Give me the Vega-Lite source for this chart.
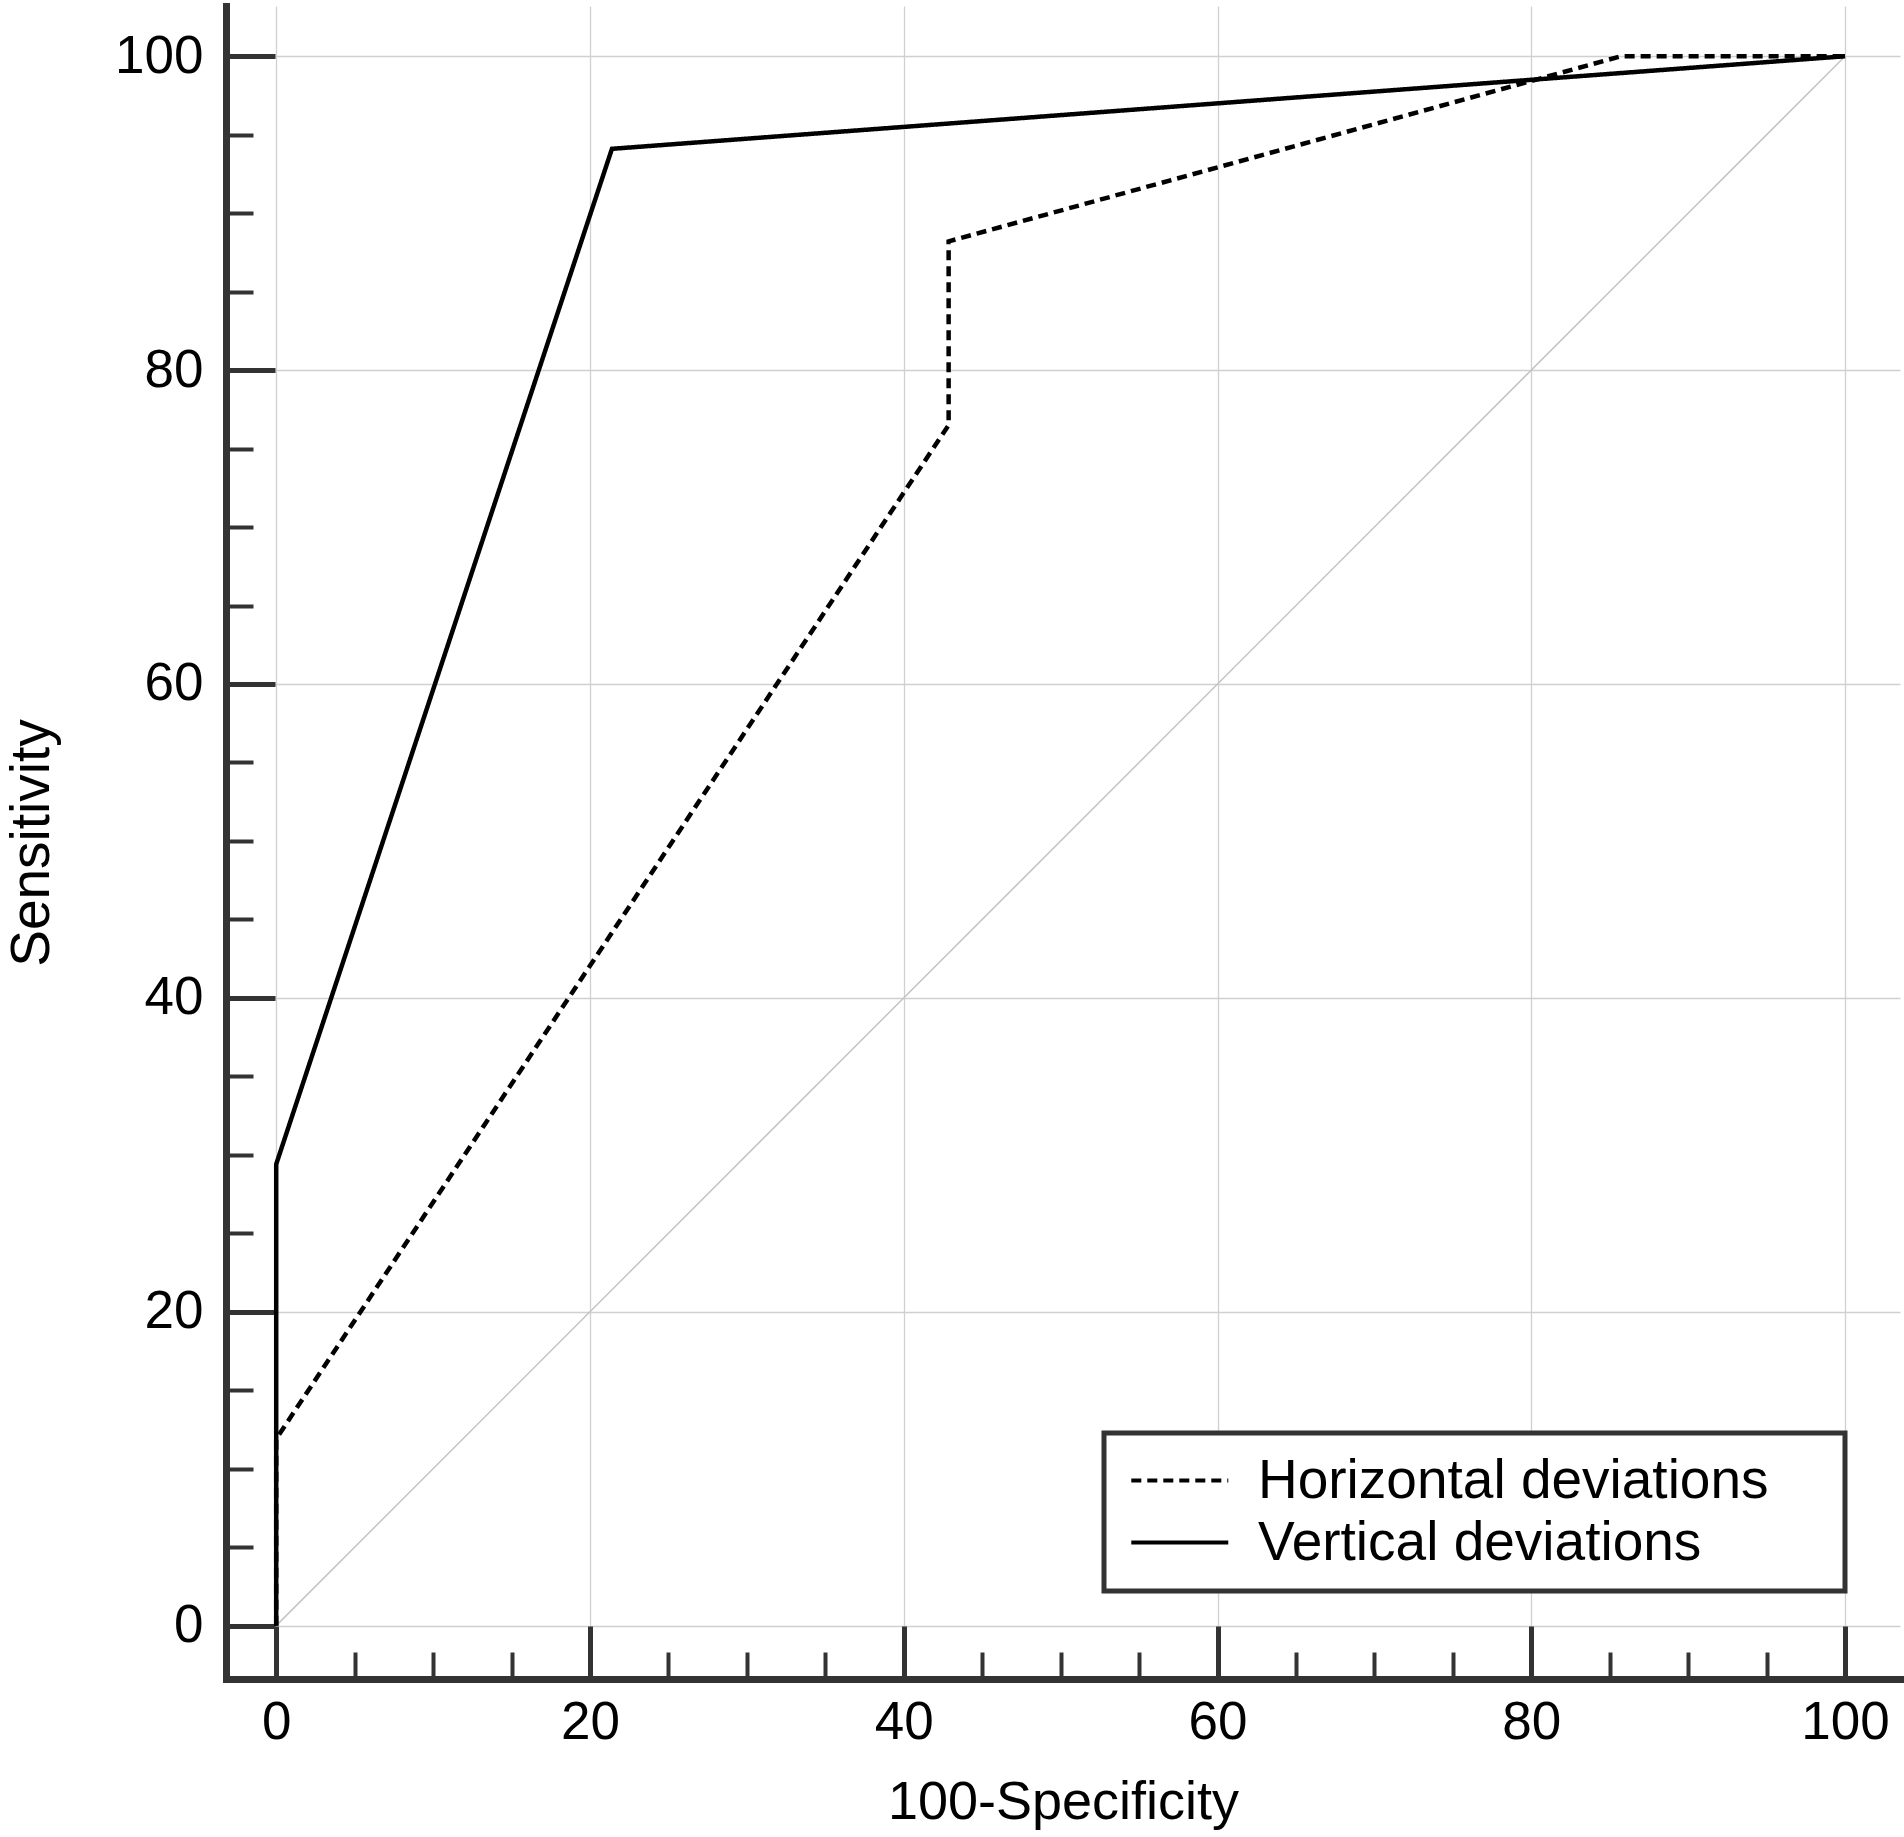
{
  "$schema": "https://vega.github.io/schema/vega-lite/v6.json",
  "width": 1674,
  "height": 1673,
  "autosize": {"type": "none"},
  "padding": {"left": 226, "top": 6, "right": 4, "bottom": 158},
  "background": "white",
  "datasets": {
    "diag": [
      {"x": 0, "y": 0},
      {"x": 100, "y": 100}
    ],
    "roc": [
      {"series": "Horizontal deviations", "i": 1, "x": 0, "y": 0},
      {"series": "Horizontal deviations", "i": 2, "x": 0, "y": 11.9},
      {"series": "Horizontal deviations", "i": 3, "x": 42.86, "y": 76.5},
      {"series": "Horizontal deviations", "i": 4, "x": 42.86, "y": 88.2},
      {"series": "Horizontal deviations", "i": 5, "x": 85.71, "y": 100},
      {"series": "Horizontal deviations", "i": 6, "x": 100, "y": 100},
      {"series": "Vertical deviations", "i": 1, "x": 0, "y": 0},
      {"series": "Vertical deviations", "i": 2, "x": 0, "y": 29.4},
      {"series": "Vertical deviations", "i": 3, "x": 21.4, "y": 94.1},
      {"series": "Vertical deviations", "i": 4, "x": 100, "y": 100}
    ]
  },
  "layer": [
    {
      "data": {"name": "diag"},
      "mark": {"type": "line", "color": "#c4c4c4", "strokeWidth": 1.5},
      "encoding": {
        "x": {
          "field": "x", "type": "quantitative",
          "scale": {"domain": [-3.2, 103.5], "nice": false, "zero": false},
          "axis": {
            "orient": "bottom",
            "values": [5, 10, 15, 25, 30, 35, 45, 50, 55, 65, 70, 75, 85, 90, 95],
            "labels": false, "domain": false, "grid": false, "title": null,
            "tickSize": -27, "tickWidth": 4, "tickColor": "#333333"
          }
        },
        "y": {
          "field": "y", "type": "quantitative",
          "scale": {"domain": [-3.4, 103.2], "nice": false, "zero": false},
          "axis": {
            "orient": "left",
            "values": [5, 10, 15, 25, 30, 35, 45, 50, 55, 65, 70, 75, 85, 90, 95],
            "labels": false, "domain": false, "grid": false, "title": null,
            "tickSize": -27, "tickWidth": 4, "tickColor": "#333333"
          }
        }
      }
    },
    {
      "data": {"name": "roc"},
      "mark": {"type": "line", "color": "black", "strokeWidth": 4.5},
      "encoding": {
        "x": {
          "field": "x", "type": "quantitative",
          "axis": {
            "orient": "bottom",
            "values": [0, 20, 40, 60, 80, 100],
            "title": "100-Specificity",
            "tickSize": -53, "tickWidth": 5, "tickColor": "#333333",
            "domainColor": "#333333", "domainWidth": 7, "domainCap": "square",
            "grid": true, "gridColor": "#d0d0d0", "gridWidth": 1.3,
            "labelFontSize": 53, "labelColor": "black", "labelPadding": 70,
            "titleFontSize": 54, "titleFontWeight": "normal", "titleColor": "black", "titlePadding": 26
          }
        },
        "y": {
          "field": "y", "type": "quantitative",
          "axis": {
            "orient": "left",
            "values": [0, 20, 40, 60, 80, 100],
            "title": "Sensitivity",
            "tickSize": -49, "tickWidth": 5, "tickColor": "#333333",
            "domainColor": "#333333", "domainWidth": 7, "domainCap": "square",
            "grid": true, "gridColor": "#d0d0d0", "gridWidth": 1.3,
            "labelFontSize": 53, "labelColor": "black", "labelPadding": 72,
            "titleFontSize": 55, "titleFontWeight": "normal", "titleColor": "black", "titlePadding": 54
          }
        },
        "order": {"field": "i", "type": "quantitative"},
        "strokeDash": {
          "field": "series", "type": "nominal",
          "scale": {"domain": ["Horizontal deviations", "Vertical deviations"], "range": [[10, 6], [1, 0]]},
          "legend": {
            "title": "\u00a0",
            "titleOrient": "right",
            "titleFontSize": 10,
            "titlePadding": 56,
            "orient": "none",
            "legendX": 878,
            "legendY": 1427,
            "symbolType": "M-1.25,0H4.75",
            "symbolSize": 1045,
            "symbolStrokeWidth": 4,
            "symbolStrokeColor": "black",
            "labelFontSize": 55,
            "labelColor": "black",
            "labelOffset": 79,
            "labelLimit": 1000,
            "rowPadding": 6,
            "padding": 20,
            "strokeColor": "#333333",
            "fillColor": "white"
          }
        }
      }
    }
  ],
  "resolve": {"axis": {"x": "independent", "y": "independent"}},
  "config": {
    "view": {"stroke": null},
    "font": "Liberation Sans",
    "axis": {"labelFont": "Liberation Sans", "titleFont": "Liberation Sans"},
    "legend": {"labelFont": "Liberation Sans", "titleFont": "Liberation Sans", "strokeWidth": 5}
  }
}
